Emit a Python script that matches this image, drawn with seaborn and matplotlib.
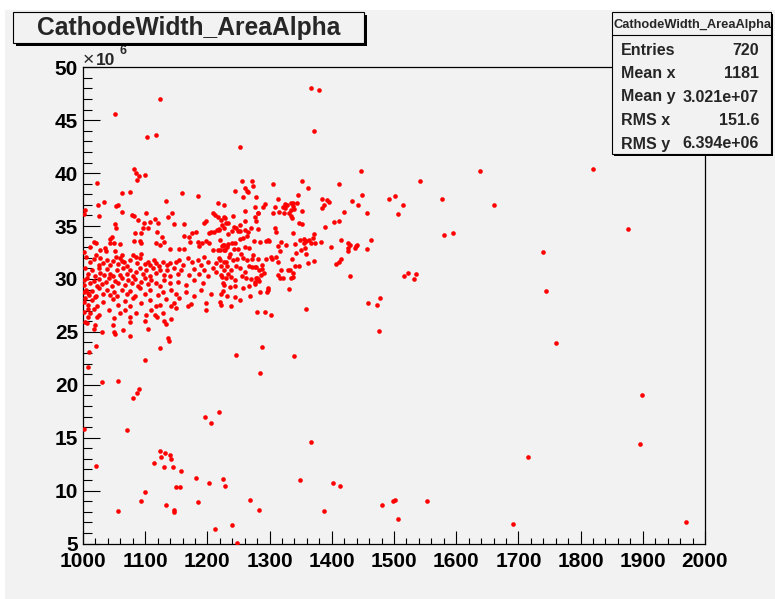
import matplotlib
matplotlib.use("Agg")
import matplotlib.pyplot as plt
from matplotlib.patches import Rectangle
from matplotlib.ticker import MultipleLocator
import pandas as pd
import seaborn as sns

# ---------------------------------------------------------------------------
# Data: cathode width (x) vs alpha area (y, in units of 1e6)
# ---------------------------------------------------------------------------
tail_points = [
    (1638, 40.17), (1541, 39.28), (1492, 37.52), (1502, 37.86), (1514, 37.0),
    (1507, 36.1), (1577, 37.6), (1660, 36.98), (1820, 40.39), (1877, 34.74),
    (1580, 34.15), (1595, 34.3), (1463, 33.65), (1739, 32.54), (1744, 28.85),
    (1516, 30.24), (1523, 30.58), (1536, 30.49), (1532, 29.99), (1477, 28.17),
    (1473, 27.53), (1476, 25.1), (1760, 23.91), (1899, 19.03), (1896, 14.37),
    (1715, 13.17), (1480, 8.66), (1499, 8.98), (1502, 9.07), (1507, 7.3),
    (1553, 9.03), (1691, 6.86), (1970, 6.99),
]

low_points = [
    (1246, 22.8), (1288, 23.53), (1285, 21.1), (1340, 22.74), (1100, 22.36),
    (1057, 20.35), (1031, 20.23), (1081, 18.74), (1087, 19.2), (1090, 19.62),
    (1071, 15.69), (1002, 15.8), (1021, 12.34), (1196, 16.92), (1206, 16.38),
    (1218, 17.45), (1367, 14.61), (1123, 13.76), (1132, 13.57), (1125, 13.13),
    (1140, 13.35), (1142, 12.98), (1131, 12.25), (1144, 12.25), (1114, 12.6),
    (1157, 11.81), (1181, 11.15), (1203, 10.71), (1225, 11.06), (1229, 10.4),
    (1149, 10.3), (1156, 10.3), (1100, 9.89), (1094, 9.0), (1057, 8.09),
    (1134, 8.66), (1146, 8.18), (1147, 7.97), (1185, 8.94), (1349, 10.99),
    (1402, 10.71), (1413, 10.42), (1269, 9.13), (1283, 8.16), (1387, 8.09),
    (1212, 6.33), (1239, 6.77), (1247, 5.06), (1010, 23.1), (1021, 23.7),
    (1008, 21.7), (1124, 23.44), (1136, 24.4), (1138, 24.1), (1075, 24.6),
]

high_points = [
    (1124, 47.0), (1051, 45.58), (1103, 43.44), (1117, 43.57), (1023, 39.06),
    (1082, 40.42), (1086, 39.98), (1090, 39.73), (1087, 39.32), (1100, 39.85),
    (1062, 38.12), (1075, 38.21), (1134, 37.33), (1159, 38.15), (1185, 37.8),
    (1217, 37.14), (1227, 37.0), (1033, 37.3), (1024, 36.98), (1053, 36.89),
    (1056, 36.98), (1004, 36.54), (1366, 48.04), (1379, 47.88), (1372, 43.98),
    (1253, 42.44), (1447, 40.23), (1256, 39.22), (1271, 39.25), (1244, 38.31),
    (1261, 38.62), (1265, 38.19), (1274, 38.78), (1306, 38.94), (1352, 39.28),
    (1361, 38.56), (1278, 37.77), (1412, 39.0), (1448, 37.93), (1263, 38.35),
    (1258, 37.77), (1346, 37.96),
]

right_band = [
    (1385, 37.6), (1393, 37.5), (1387, 37.0), (1385, 36.7), (1395, 37.24),
    (1314, 37.52), (1324, 37.08), (1322, 36.8), (1337, 37.2), (1344, 37.14),
    (1334, 37.14), (1328, 37.0), (1338, 36.89), (1308, 36.77), (1315, 36.3),
    (1323, 36.26), (1331, 36.23), (1335, 36.5), (1352, 36.45), (1324, 36.67),
    (1305, 36.26), (1339, 36.58), (1336, 35.78), (1335, 35.94), (1290, 36.8),
    (1293, 37.08), (1432, 37.36), (1442, 37.0), (1457, 36.26), (1419, 36.3),
    (1404, 35.35), (1411, 35.44), (1389, 34.9), (1348, 35.3), (1352, 35.2),
    (1372, 34.2), (1355, 33.74), (1359, 33.6), (1363, 33.67), (1367, 33.42),
    (1382, 33.49), (1415, 33.67), (1426, 33.36), (1429, 33.2), (1439, 33.14),
    (1437, 32.95), (1399, 33.04), (1426, 32.66), (1426, 32.89), (1456, 32.85),
    (1415, 31.85), (1412, 31.6), (1406, 31.38), (1429, 30.27), (1458, 27.75),
    (1358, 27.19), (1308, 34.81), (1310, 34.4), (1338, 34.37), (1370, 33.87),
    (1349, 33.7), (1356, 33.36), (1297, 33.67), (1295, 33.55), (1299, 33.55),
    (1318, 33.45), (1314, 33.11), (1341, 33.3), (1357, 32.95), (1351, 32.7),
    (1373, 33.39), (1440, 33.2), (1326, 33.2), (1317, 32.64), (1311, 32.1),
    (1314, 31.63), (1342, 32.42), (1336, 31.85), (1341, 31.19), (1338, 30.53),
    (1358, 32.33), (1347, 31.22), (1333, 30.84), (1362, 31.47), (1372, 31.66),
    (1302, 32.07), (1304, 31.88), (1294, 31.91), (1318, 30.84), (1329, 30.84),
    (1313, 30.37), (1316, 30.06), (1321, 30.06), (1335, 30.06), (1337, 30.15),
    (1331, 29.04), (1297, 29.14), (1296, 28.79), (1298, 28.95), (1292, 26.9),
    (1303, 26.56), (1291, 30.53),
]

middle_band = [
    (1276, 36.77), (1281, 36.26), (1261, 36.45), (1241, 35.97), (1233, 35.28),
    (1276, 35.88), (1282, 36.2), (1278, 35.5), (1261, 35.47), (1253, 35.09),
    (1270, 34.84), (1282, 34.69), (1266, 34.46), (1261, 34.62), (1242, 34.9),
    (1246, 34.78), (1240, 34.53), (1249, 34.56), (1253, 34.56), (1226, 34.78),
    (1219, 34.62), (1233, 34.21), (1284, 33.49), (1275, 33.55), (1245, 33.42),
    (1239, 33.36), (1233, 33.3), (1226, 33.17), (1223, 33.11), (1222, 35.6),
    (1229, 35.8), (1224, 35.1), (1220, 33.7), (1253, 33.8), (1258, 33.9),
    (1264, 34.1), (1220, 32.7), (1227, 32.7), (1236, 32.4), (1242, 32.8),
    (1249, 32.8), (1254, 32.4), (1260, 33.0), (1267, 32.9), (1273, 32.3),
    (1220, 31.8), (1226, 31.6), (1235, 32.1), (1241, 31.8), (1247, 31.9),
    (1257, 32.0), (1263, 31.8), (1271, 31.85), (1282, 31.91), (1222, 31.2),
    (1231, 31.2), (1238, 30.8), (1246, 31.2), (1253, 31.0), (1260, 30.7),
    (1267, 31.2), (1276, 31.15), (1272, 31.15), (1278, 31.15), (1287, 31.28),
    (1288, 30.93), (1283, 30.84), (1286, 30.37), (1279, 30.12), (1224, 30.15),
    (1230, 30.05), (1238, 30.15), (1245, 29.9), (1256, 30.3), (1262, 30.05),
    (1270, 29.96), (1276, 29.74), (1283, 29.8), (1278, 30.06), (1281, 29.99),
    (1226, 29.4), (1236, 29.2), (1245, 29.3), (1257, 29.1), (1267, 29.3),
    (1277, 29.5), (1284, 28.8), (1269, 28.38), (1222, 28.6), (1231, 28.4),
    (1244, 28.3), (1222, 27.5), (1238, 27.4), (1252, 28.0), (1280, 26.87),
]

upper_left_band = [
    (1002, 36.13), (1026, 35.94), (1062, 36.3), (1078, 36.04), (1082, 35.97),
    (1102, 36.2), (1088, 35.54), (1098, 35.25), (1108, 35.41), (1115, 35.63),
    (1120, 35.25), (1105, 34.84), (1143, 36.2), (1137, 35.88), (1146, 35.19),
    (1163, 35.19), (1097, 34.78), (1093, 34.31), (1051, 35.16), (1053, 34.78),
    (1083, 34.31), (1046, 34.0), (1044, 33.74), (1017, 33.52), (1021, 33.36),
    (1043, 33.36), (1050, 33.36), (1059, 33.27), (1037, 32.64), (1035, 32.89),
    (1002, 32.57), (1052, 32.64), (1062, 32.26), (1081, 32.26), (1085, 32.1),
    (1093, 32.32), (1082, 33.55), (1091, 33.61), (1094, 33.42), (1118, 33.36),
    (1123, 33.2), (1131, 33.52), (1119, 34.46), (1127, 34.0), (1140, 32.8),
    (1154, 32.82), (1162, 32.82), (1163, 34.06), (1171, 33.93), (1175, 34.37),
    (1182, 34.4), (1172, 33.52), (1185, 33.45), (1186, 33.11), (1192, 33.36),
    (1198, 33.58), (1194, 35.31), (1197, 35.47), (1202, 34.31), (1206, 34.4),
    (1211, 34.46), (1215, 34.62), (1218, 34.68), (1202, 33.36), (1209, 36.2),
    (1213, 36.04), (1217, 35.88), (1227, 35.88), (1230, 35.25), (1225, 33.2),
    (1229, 32.73), (1232, 32.99), (1209, 32.73), (1217, 32.73), (1011, 33.05),
    (1027, 32.7),
]

core_band = [
    # ~31-32
    (1005, 32.1), (1011, 31.6), (1017, 31.85), (1021, 32.26), (1025, 31.3),
    (1028, 32.0), (1032, 31.5), (1038, 31.8), (1043, 31.3), (1048, 31.7),
    (1053, 32.1), (1057, 31.4), (1066, 31.6), (1070, 31.2), (1075, 31.8),
    (1087, 31.5), (1092, 31.95), (1099, 31.4), (1105, 31.6), (1108, 31.3),
    (1114, 31.8), (1118, 31.5), (1122, 31.2), (1129, 31.6), (1135, 31.3),
    (1140, 31.5), (1150, 31.6), (1155, 31.8), (1161, 31.3), (1169, 31.95),
    (1176, 31.6), (1185, 31.8), (1190, 31.3), (1194, 32.1), (1201, 31.6),
    (1214, 31.5), (1219, 31.95), (1230, 31.6), (1060, 31.95), (1062, 31.72),
    # ~30-31
    (1003, 31.0), (1008, 30.5), (1014, 30.8), (1019, 30.3), (1025, 31.0),
    (1028, 30.6), (1034, 30.4), (1038, 30.9), (1043, 30.5), (1048, 30.3),
    (1054, 30.8), (1060, 30.4), (1064, 31.0), (1070, 30.5), (1075, 30.8),
    (1080, 30.3), (1086, 30.7), (1091, 31.0), (1096, 30.5), (1102, 30.8),
    (1107, 30.3), (1113, 31.0), (1118, 30.6), (1123, 30.8), (1130, 30.4),
    (1135, 30.8), (1140, 30.3), (1147, 31.0), (1153, 30.5), (1158, 30.8),
    (1171, 30.4), (1179, 30.9), (1187, 30.5), (1194, 30.8), (1201, 30.3),
    (1209, 31.0), (1214, 30.7), (1222, 30.4), (1227, 30.8), (1233, 30.5),
    # ~29-30
    (1001, 29.9), (1002, 29.4), (1007, 30.05), (1011, 29.6), (1017, 29.8),
    (1022, 29.3), (1026, 29.96), (1031, 29.5), (1037, 29.7), (1042, 30.05),
    (1046, 29.3), (1051, 29.8), (1057, 29.6), (1062, 30.05), (1067, 29.4),
    (1073, 29.9), (1078, 29.6), (1083, 29.96), (1088, 29.3), (1094, 29.7),
    (1099, 30.05), (1105, 29.5), (1110, 29.9), (1117, 29.65), (1123, 29.3),
    (1131, 29.9), (1140, 29.6), (1153, 29.7), (1166, 29.4), (1179, 29.9),
    (1193, 29.6), (1225, 29.65),
    # ~28-29
    (1001, 28.8), (1005, 29.0), (1010, 28.5), (1015, 28.9), (1021, 28.4),
    (1026, 29.1), (1032, 28.6), (1038, 28.95), (1044, 28.5), (1050, 28.8),
    (1055, 28.4), (1063, 29.0), (1070, 28.6), (1076, 28.9), (1083, 28.4),
    (1091, 29.1), (1099, 28.6), (1108, 28.95), (1121, 28.5), (1129, 28.8),
    (1142, 29.0), (1150, 28.6), (1166, 28.8), (1179, 28.4), (1190, 28.95),
    (1206, 28.6), (1225, 28.9),
    # ~27-28
    (1001, 27.85), (1003, 28.2), (1008, 27.5), (1015, 28.0), (1022, 27.45),
    (1032, 27.85), (1048, 28.1), (1057, 27.5), (1067, 27.95), (1075, 27.45),
    (1080, 28.2), (1094, 27.7), (1107, 28.0), (1123, 27.5), (1134, 28.1),
    (1147, 27.7), (1155, 28.2), (1169, 27.45), (1197, 27.7), (1220, 27.85),
    (1008, 28.64), (1020, 28.32),
    # ~26-27
    (1002, 26.9), (1008, 26.4), (1017, 27.2), (1026, 26.6), (1041, 27.06),
    (1050, 26.3), (1059, 26.75), (1067, 27.1), (1075, 26.4), (1086, 26.8),
    (1101, 26.6), (1110, 27.06), (1119, 26.4), (1129, 26.8), (1142, 26.2),
    (1008, 27.12), (1011, 26.75), (1141, 27.4), (1150, 27.3), (1174, 27.6),
    (1197, 27.06), (1117, 27.4), (1115, 26.6), (1130, 26.0), (1099, 26.0),
    # ~25-26
    (1006, 25.8), (1017, 25.3), (1030, 25.0), (1048, 25.65), (1064, 25.2),
    (1075, 25.96), (1105, 25.3), (1134, 25.7), (1003, 25.95), (1022, 26.43),
    (1019, 25.64), (1050, 24.95), (1052, 24.76),
]

x_ticks = [1000, 1100, 1200, 1300, 1400, 1500, 1600, 1700, 1800, 1900, 2000]
x_tick_labels = ["1000", "1100", "1200", "1300", "1400", "1500",
                 "1600", "1700", "1800", "1900", "2000"]
y_ticks = [5, 10, 15, 20, 25, 30, 35, 40, 45, 50]
y_tick_labels = ["5", "10", "15", "20", "25", "30", "35", "40", "45", "50"]

hist_name = "CathodeWidth_AreaAlpha"
stat_names = ["Entries", "Mean x", "Mean y", "RMS x", "RMS y"]
stat_values = ["720", "1181", "3.021e+07", "151.6", "6.394e+06"]

# ---------------------------------------------------------------------------
all_points = (tail_points + low_points + high_points + right_band
              + middle_band + upper_left_band + core_band)
df = pd.DataFrame(all_points, columns=["width", "area"])

W, H = 775, 599
PAD = "#f2f2f2"

sns.set_style("ticks")
plt.rcParams["font.family"] = ["Liberation Sans", "DejaVu Sans"]


def fx(px):
    return px / W


def fy(py):
    return 1 - py / H


fig = plt.figure(figsize=(W / 100, H / 100), dpi=100, facecolor="white")
fig.add_artist(Rectangle((fx(5), 0), 1 - fx(5), fy(10), transform=fig.transFigure,
                         facecolor=PAD, edgecolor="none", zorder=-5))

left, right, top, bottom = 83, 705, 67.3, 543.5
ax = fig.add_axes([fx(left), fy(bottom), fx(right) - fx(left), fy(top) - fy(bottom)])
ax.set_facecolor(PAD)

sns.scatterplot(data=df, x="width", y="area", ax=ax, color="#ff0000", s=11,
                linewidth=0, legend=False, zorder=3)

ax.set_xlim(1000, 2000)
ax.set_ylim(5, 50)
ax.set_xlabel("")
ax.set_ylabel("")
ax.set_xticks(x_ticks)
ax.set_xticklabels(x_tick_labels, fontsize=15, fontweight="bold")
ax.set_yticks(y_ticks)
ax.set_yticklabels(y_tick_labels, fontsize=15, fontweight="bold")
ax.xaxis.set_minor_locator(MultipleLocator(20))
ax.yaxis.set_minor_locator(MultipleLocator(1))
ax.tick_params(which="both", direction="in", top=False, right=False, colors="black")
ax.tick_params(axis="x", which="major", length=9.5, width=0.8, pad=6)
ax.tick_params(axis="x", which="minor", length=4.5, width=0.8)
ax.tick_params(axis="y", which="major", length=12.5, width=0.8, pad=3.5)
ax.tick_params(axis="y", which="minor", length=6.3, width=0.8)
for sp in ax.spines.values():
    sp.set_visible(True)
    sp.set_color("black")
    sp.set_linewidth(0.9)

# x10^6 exponent label above the y axis
fig.text(fx(82.5), fy(65), "\u00d7", fontsize=14, fontweight="normal", va="baseline")
fig.text(fx(96), fy(65), "10", fontsize=12.5, fontweight="bold", va="baseline")
fig.text(fx(119.5), fy(53.5), "6", fontsize=9, fontweight="bold", va="baseline")


def framed_box(x0, y0, x1, y1, shadow):
    fig.add_artist(Rectangle((fx(x0 + shadow), fy(y1 + shadow)), fx(x1 - x0), (y1 - y0) / H,
                             transform=fig.transFigure, facecolor="black",
                             edgecolor="none", zorder=5))
    fig.add_artist(Rectangle((fx(x0), fy(y1)), fx(x1 - x0), (y1 - y0) / H,
                             transform=fig.transFigure, facecolor=PAD,
                             edgecolor="black", linewidth=0.8, zorder=6))


# title box
framed_box(13, 12, 364, 43, 3)
fig.text(fx(188.5), fy(35), hist_name, fontsize=17.7, fontweight="bold",
         ha="center", va="baseline", zorder=7)

# statistics box
framed_box(612, 12, 771, 154, 2)
fig.add_artist(plt.Line2D([fx(612), fx(771)], [fy(35), fy(35)], transform=fig.transFigure,
                          color="black", linewidth=0.8, zorder=7))
fig.text(fx(692), fy(28), hist_name, fontsize=9.3, fontweight="bold",
         ha="center", va="baseline", zorder=7)
row_base = [55, 78, 101.5, 125, 148.5]
for name, val, yb in zip(stat_names, stat_values, row_base):
    fig.text(fx(621), fy(yb), name, fontsize=11.5, fontweight="bold",
             ha="left", va="baseline", zorder=7)
    fig.text(fx(759), fy(yb), val, fontsize=11.5, fontweight="bold",
             ha="right", va="baseline", zorder=7)

fig.savefig("out.png", dpi=100, facecolor="white")
